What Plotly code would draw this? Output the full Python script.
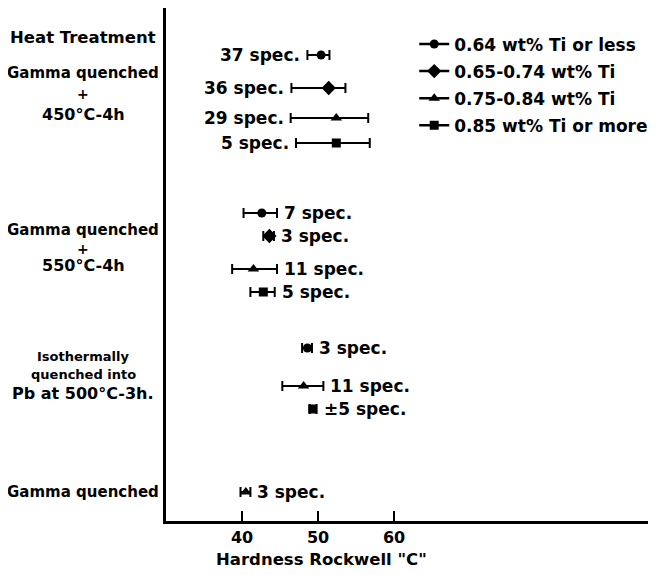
import plotly.graph_objects as go

# ---------------- data ----------------
series_names = ["0.64 wt% Ti or less", "0.65-0.74 wt% Ti",
                "0.75-0.84 wt% Ti", "0.85 wt% Ti or more"]
series_symbols = ["circle", "diamond", "triangle-up", "square"]

# vertical row of each entry (chart rows counted from the top)
s1_row = [47, 205, 340]
s1_mean = [50.4, 42.6, 48.6]
s1_low = [48.6, 40.2, 47.9]
s1_high = [51.5, 44.6, 49.2]
s1_label = ["37 spec.", "7 spec.", "3 spec."]

s2_row = [80, 228]
s2_mean = [51.4, 43.6]
s2_low = [46.5, 42.8]
s2_high = [53.6, 44.2]
s2_label = ["36 spec.", "3 spec."]

s3_row = [110, 261, 378, 484]
s3_mean = [52.4, 41.5, 48.1, 40.5]
s3_low = [46.4, 38.7, 45.3, 39.8]
s3_high = [56.6, 44.6, 50.7, 41.1]
s3_label = ["29 spec.", "11 spec.", "11 spec.", "3 spec."]

s4_row = [135, 284, 401]
s4_mean = [52.4, 42.8, 49.3]
s4_low = [47.1, 41.1, 48.9]
s4_high = [56.8, 44.3, 49.8]
s4_label = ["5 spec.", "5 spec.", "±5 spec."]

# rows in the first treatment group get their label on the left
left_label_rows_max = 150

x_ticks = [40, 50, 60]
x_title = 'Hardness Rockwell "C"'

series = [
    (s1_row, s1_mean, s1_low, s1_high, s1_label),
    (s2_row, s2_mean, s2_low, s2_high, s2_label),
    (s3_row, s3_mean, s3_low, s3_high, s3_label),
    (s4_row, s4_mean, s4_low, s4_high, s4_label),
]

FONT = "DejaVu Sans"
fig = go.Figure()
annotations = []

sizes = [9, 11, 10, 9]
for i, (rows, means, lows, highs, labels) in enumerate(series):
    xs, ys, ep, em = [], [], [], []
    for r, m, lo, hi in zip(rows, means, lows, highs):
        xs += [m, None]
        ys += [r, None]
        ep += [hi - m, 0]
        em += [m - lo, 0]
    fig.add_trace(go.Scatter(
        x=xs, y=ys, mode="lines+markers", connectgaps=False,
        name=series_names[i], legendgroup=f"g{i}",
        line=dict(color="black", width=2.5),
        marker=dict(symbol=series_symbols[i], size=sizes[i], color="black"),
        error_x=dict(type="data", array=ep, arrayminus=em, symmetric=False,
                     color="black", thickness=2, width=5),
        showlegend=True,
    ))
    for r, lo, hi, lab in zip(rows, lows, highs, labels):
        if r < left_label_rows_max:
            annotations.append(dict(x=lo, y=r, xref="x", yref="y", text=lab,
                                    showarrow=False, xanchor="right", xshift=-5,
                                    font=dict(family=FONT, size=17, color="black", weight="bold")))
        else:
            annotations.append(dict(x=hi, y=r, xref="x", yref="y", text=lab,
                                    showarrow=False, xanchor="left", xshift=5,
                                    font=dict(family=FONT, size=17, color="black", weight="bold")))

left_texts = [
    ("Heat Treatment", 29, 16.5),
    ("Gamma quenched", 65, 15),
    ("+", 86, 14),
    ("450°C-4h", 106, 16),
    ("Gamma quenched", 222, 15),
    ("+", 241, 14),
    ("550°C-4h", 257, 16),
    ("Isothermally", 348, 13),
    ("quenched into", 366, 13),
    ("Pb at 500°C-3h.", 385, 16),
    ("Gamma quenched", 484, 15),
]
for txt, yy, fs in left_texts:
    annotations.append(dict(x=-0.172, y=yy, xref="paper", yref="y", text=txt,
                            showarrow=False, xanchor="center",
                            font=dict(family=FONT, size=fs, color="black", weight="bold")))

# x-axis title (sits left of the plot-area centre in the original)
annotations.append(dict(x=0.322, y=-0.076, xref="paper", yref="paper", text=x_title,
                        showarrow=False, xanchor="center", yanchor="middle",
                        font=dict(family=FONT, size=16.5, color="black", weight="bold")))

fig.update_layout(
    width=652, height=567,
    margin=dict(l=158, r=12, t=0, b=54),
    paper_bgcolor="white", plot_bgcolor="white",
    font=dict(family=FONT, color="black"),
    showlegend=True,
    legend=dict(x=0.515, y=0.964, xanchor="left", yanchor="top",
                traceorder="grouped", tracegroupgap=2,
                font=dict(family=FONT, size=17, color="black", weight="bold"),
                bgcolor="rgba(0,0,0,0)"),
    xaxis=dict(range=[30, 93.4], tickvals=x_ticks, ticks="inside", ticklen=10,
               tickwidth=2, tickcolor="black",
               showline=True, linecolor="black", linewidth=2.5,
               showgrid=False, zeroline=False,
               tickfont=dict(family=FONT, size=16, color="black", weight="bold")),
    yaxis=dict(range=[513, 0], showline=True, linecolor="black", linewidth=2.5,
               showticklabels=False, ticks="", showgrid=False, zeroline=False),
    annotations=annotations,
)

fig.write_html("out.html")
